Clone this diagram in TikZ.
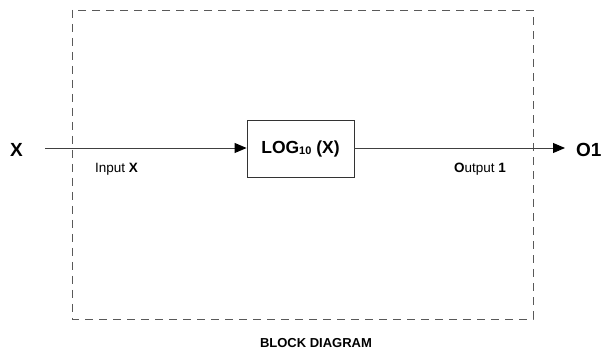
\documentclass[tikz,border=0pt]{standalone}
\usepackage{fontspec}
\setmainfont{Liberation Sans}
\usetikzlibrary{arrows.meta}
\begin{document}
\begin{tikzpicture}[x=1pt,y=-1pt,
  wire/.style={draw=black!75, line width=0.9pt},
  tip/.style={-{Triangle[length=12pt,width=10pt,color=black]}},
  frame/.style={draw=black!65, line width=0.9pt, dash pattern=on 8pt off 6pt},
  big/.style={font=\fontsize{19}{22}\selectfont\bfseries, inner sep=0pt},
  lbl/.style={font=\fontsize{13.5}{16}\selectfont, inner sep=0pt, anchor=base west},
  blockbox/.style={draw=black!80, line width=0.9pt, minimum width=107pt, minimum height=57pt, inner sep=0pt, font=\fontsize{17.5}{20}\selectfont\bfseries}
  ]
\useasboundingbox (0,0) rectangle (605,352);
\draw[frame] (72,10) rectangle (533,319);
\node[blockbox] (f) at (300.5,148.5) {LOG\raisebox{-1.5pt}{\fontsize{11}{12}\selectfont 10} (X)};
\node[big, anchor=west] (x) at (10,150) {X};
\node[big, anchor=west] (o) at (576,150) {O1};
\coordinate (xin) at (45,148);
\coordinate (oend) at (565,148);
\draw[wire,tip] (xin) -- (f.west |- xin);
\draw[wire,tip] (f.east |- oend) -- (oend);
\node[lbl] (ilbl) at (95,173) {Input \textbf{X}};
\node[lbl] (olbl) at (454,173) {\textbf{O}utput \textbf{1}};
\node[font=\fontsize{13}{15}\selectfont\bfseries, inner sep=0pt, anchor=base] (cap) at (316,348) {BLOCK DIAGRAM};
\end{tikzpicture}
\end{document}
